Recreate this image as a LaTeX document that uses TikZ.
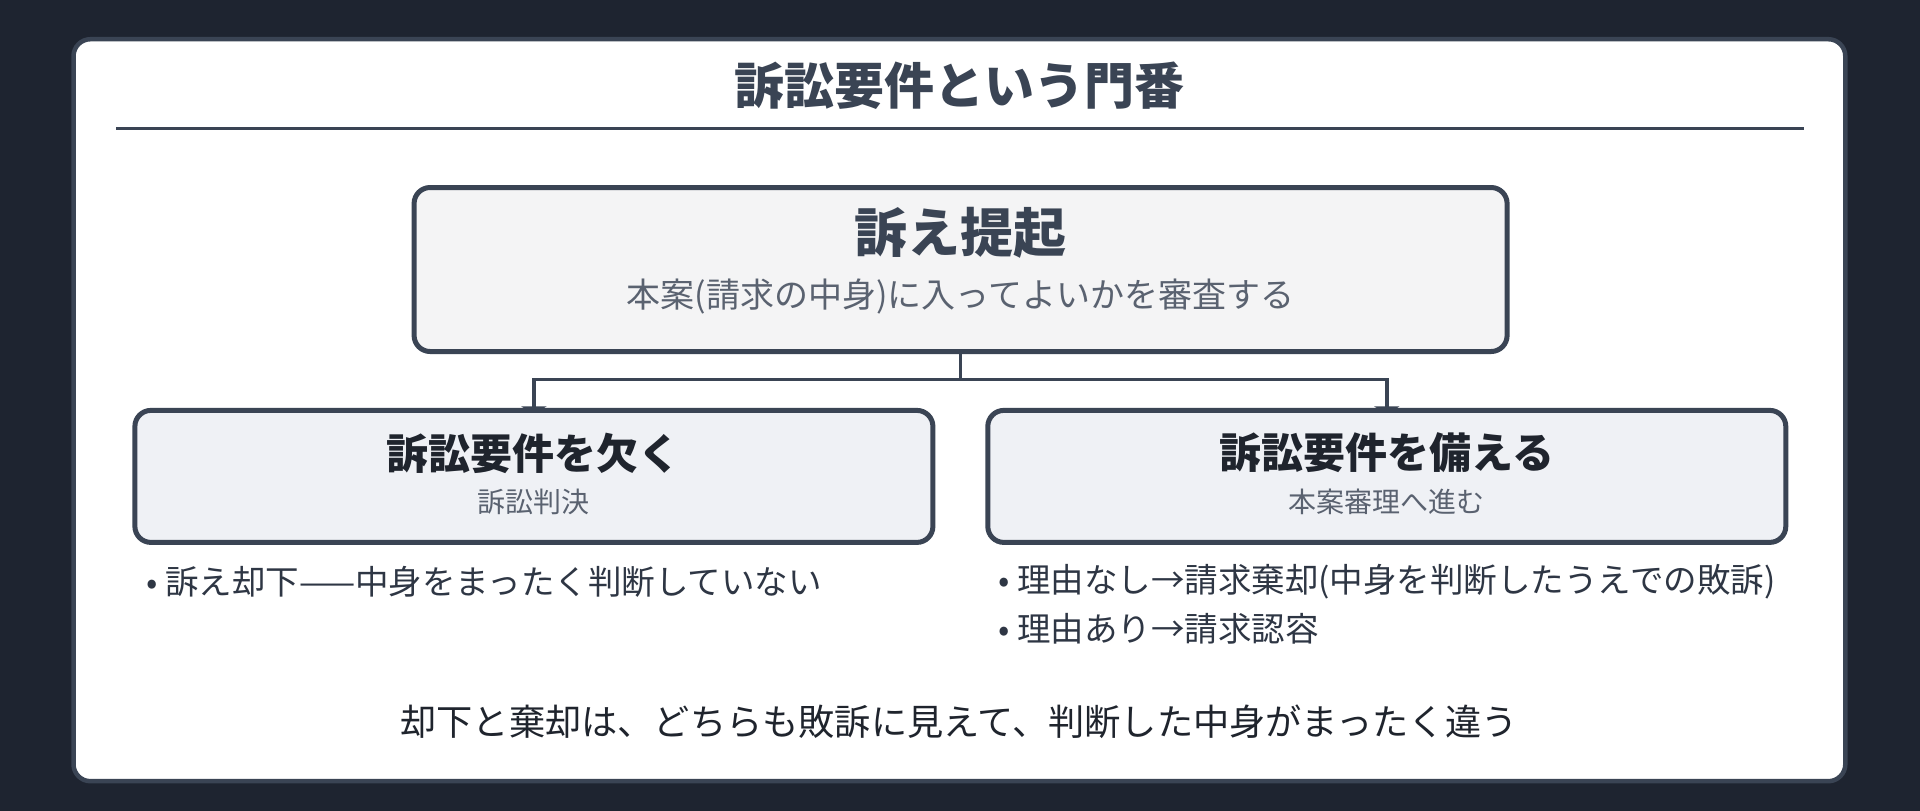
\documentclass[tikz,border=0pt]{standalone}
\usepackage{fontspec}
\setmainfont{Noto Sans CJK JP}
\usetikzlibrary{arrows.meta}

\definecolor{bgdark}{HTML}{1E2430}
\definecolor{edge}{HTML}{3A4454}
\definecolor{boxtop}{HTML}{F4F4F5}
\definecolor{boxsub}{HTML}{EFF1F5}
\definecolor{inkdark}{HTML}{1F242D}
\definecolor{inkgray}{HTML}{5A6270}
\definecolor{inkmid}{HTML}{2E3644}

\pgfdeclarelayer{cardlayer}
\pgfdeclarelayer{linklayer}
\pgfsetlayers{cardlayer,linklayer,main}

\begin{document}
\begin{tikzpicture}[x=1pt,y=-1pt,
    box/.style={draw=edge,line width=5pt,rounded corners=16pt,outer sep=0pt,inner sep=0pt},
    topbox/.style={box,fill=boxtop,minimum width=1093pt,minimum height=164pt},
    subbox/.style={box,fill=boxsub,minimum width=798pt,minimum height=132pt},
    head/.style={font=\fontsize{42}{50}\selectfont\bfseries,text=inkdark},
    sub/.style={font=\fontsize{28}{34}\selectfont,text=inkgray},
    item/.style={anchor=west,inner sep=0pt,font=\fontsize{33.5}{40}\selectfont,text=inkmid},
    link/.style={draw=edge,line width=3.5pt}]
  \useasboundingbox (0,0) rectangle (1920,811);

  \begin{pgfonlayer}{cardlayer}
    \fill[bgdark] (0,0) rectangle (1920,811);
    \draw[draw=edge,line width=4.5pt,rounded corners=17pt,fill=white] (73.5,39.2) rectangle (1845.3,781.2);
  \end{pgfonlayer}

  \node[font=\fontsize{50}{60}\selectfont\bfseries,text=edge] (title) at (959,86) {訴訟要件という門番};
  \draw[draw=edge,line width=2.5pt] (116,128.6) -- (1804,128.6);

  \node[topbox] (teiki) at (960.6,269.5) {};
  \node[font=\fontsize{53}{62}\selectfont\bfseries,text=edge] (teikihead) at (960.6,233) {訴え提起};
  \node[font=\fontsize{34}{40}\selectfont,text=inkgray] (teikisub) at (960.6,296.5) {本案(請求の中身)に入ってよいかを審査する};

  \node[subbox] (kaku) at (533.9,476.4) {};
  \node[head] (kakuhead) at (533.9,453) {訴訟要件を欠く};
  \node[sub] (kakusub) at (533.9,502) {訴訟判決};

  \node[subbox] (sonae) at (1386.8,476.4) {};
  \node[head] (sonaehead) at (1386.8,453) {訴訟要件を備える};
  \node[sub] (sonaesub) at (1386.8,502) {本案審理へ進む};

  \begin{pgfonlayer}{linklayer}
    \draw[link] (teiki.south) -- ++(0,28.1) coordinate (fork);
    \draw[link,-{Triangle[width=25pt,length=8pt]},shorten >=-4pt] (fork) -| (kaku.north);
    \draw[link,-{Triangle[width=25pt,length=8pt]},shorten >=-4pt] (fork) -| (sonae.north);
  \end{pgfonlayer}

  \node[item] (kyakka) at (146,582) {• 訴え却下——中身をまったく判断していない};
  \node[item] (kikyaku) at (998,582) {• 理由なし→請求棄却(中身を判断したうえでの敗訴)};
  \node[item] (ninyo) at (998,628.5) {• 理由あり→請求認容};

  \node[font=\fontsize{36.2}{43}\selectfont,text=inkdark] (note) at (959,721.5) {却下と棄却は、どちらも敗訴に見えて、判断した中身がまったく違う};
\end{tikzpicture}
\end{document}
